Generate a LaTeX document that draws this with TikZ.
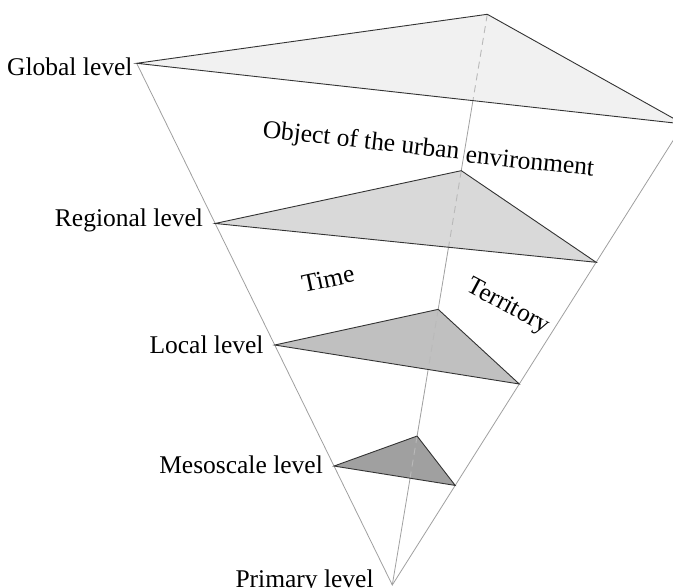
\documentclass[tikz,border=0pt]{standalone}
\usepackage{fontspec}
\setmainfont{Liberation Serif}
\usepackage{tikz}
\usetikzlibrary{calc}
\definecolor{lvlglobal}{RGB}{241,241,241}
\definecolor{lvlregion}{RGB}{217,217,217}
\definecolor{lvllocal}{RGB}{192,192,192}
\definecolor{lvlmeso}{RGB}{160,160,160}
\tikzset{
  edge/.style   ={draw=gray!75, line width=0.8pt},
  plane/.style  ={draw=black!80, line width=0.9pt},
  hidden/.style ={draw=gray!55, line width=0.9pt, dash pattern=on 7pt off 5pt},
  lvl/.style    ={font=\fontsize{25.5}{30}\selectfont, anchor=base east, inner sep=0pt},
  axis/.style   ={font=\fontsize{25.5}{30}\selectfont, inner sep=0pt},
}
\begin{document}
\begin{tikzpicture}[x=1pt,y=-1pt]
\useasboundingbox (0,0) rectangle (673,588);
% apex and the global plane
\coordinate (ap) at (392.3,585);
\coordinate (gl) at (136.7,63.3);
\coordinate (gt) at (487.3,14.3);
\coordinate (gr) at (683.5,124);
% the lower planes sit on the three edges
\coordinate (rl) at ($(ap)!0.693!(gl)$);
\coordinate (rt) at ($(ap)!0.726!(gt)$);
\coordinate (rr) at ($(ap)!0.700!(gr)$);
\coordinate (ll) at ($(ap)!0.460!(gl)$);
\coordinate (lt) at ($(ap)!0.483!(gt)$);
\coordinate (lr) at ($(ap)!0.436!(gr)$);
\coordinate (ml) at ($(ap)!0.228!(gl)$);
\coordinate (mt) at ($(ap)!0.261!(gt)$);
\coordinate (mr) at ($(ap)!0.216!(gr)$);

\draw[edge] (gl) -- (ap) -- (gr);
\draw[edge] (gt) -- (ap);

\foreach \l/\t/\r/\c in {gl/gt/gr/lvlglobal, rl/rt/rr/lvlregion, ll/lt/lr/lvllocal, ml/mt/mr/lvlmeso}{
  \fill[\c] (\l) -- (\t) -- (\r) -- cycle;
  \begin{scope}
    \clip (\l) -- (\t) -- (\r) -- cycle;
    \draw[hidden] (\t) -- (ap);
  \end{scope}
  \draw[plane] (\l) -- (\t) -- (\r) -- cycle;
}

% level names
\node[lvl] (glab) at ($(gl)+(-4,12)$) {Global level};
\node[lvl] (rlab) at ($(rl)+(-12,3)$) {Regional level};
\node[lvl] (llab) at ($(ll)+(-11,8)$) {Local level};
\node[lvl] (mlab) at ($(ml)+(-11,7)$) {Mesoscale level};
\node[lvl] (plab) at ($(ap)+(-18.5,2)$) {Primary level};

% faces
\node[axis, rotate=-6.5] (obj) at (361,142) {Object of the urban};
\node[axis, rotate=-6] (env) at (530,161) {environment};
\node[axis, rotate=12] (time) at (328,279) {Time};
\node[axis, rotate=-28] (terr) at (508,307) {Territory};
\end{tikzpicture}
\end{document}
